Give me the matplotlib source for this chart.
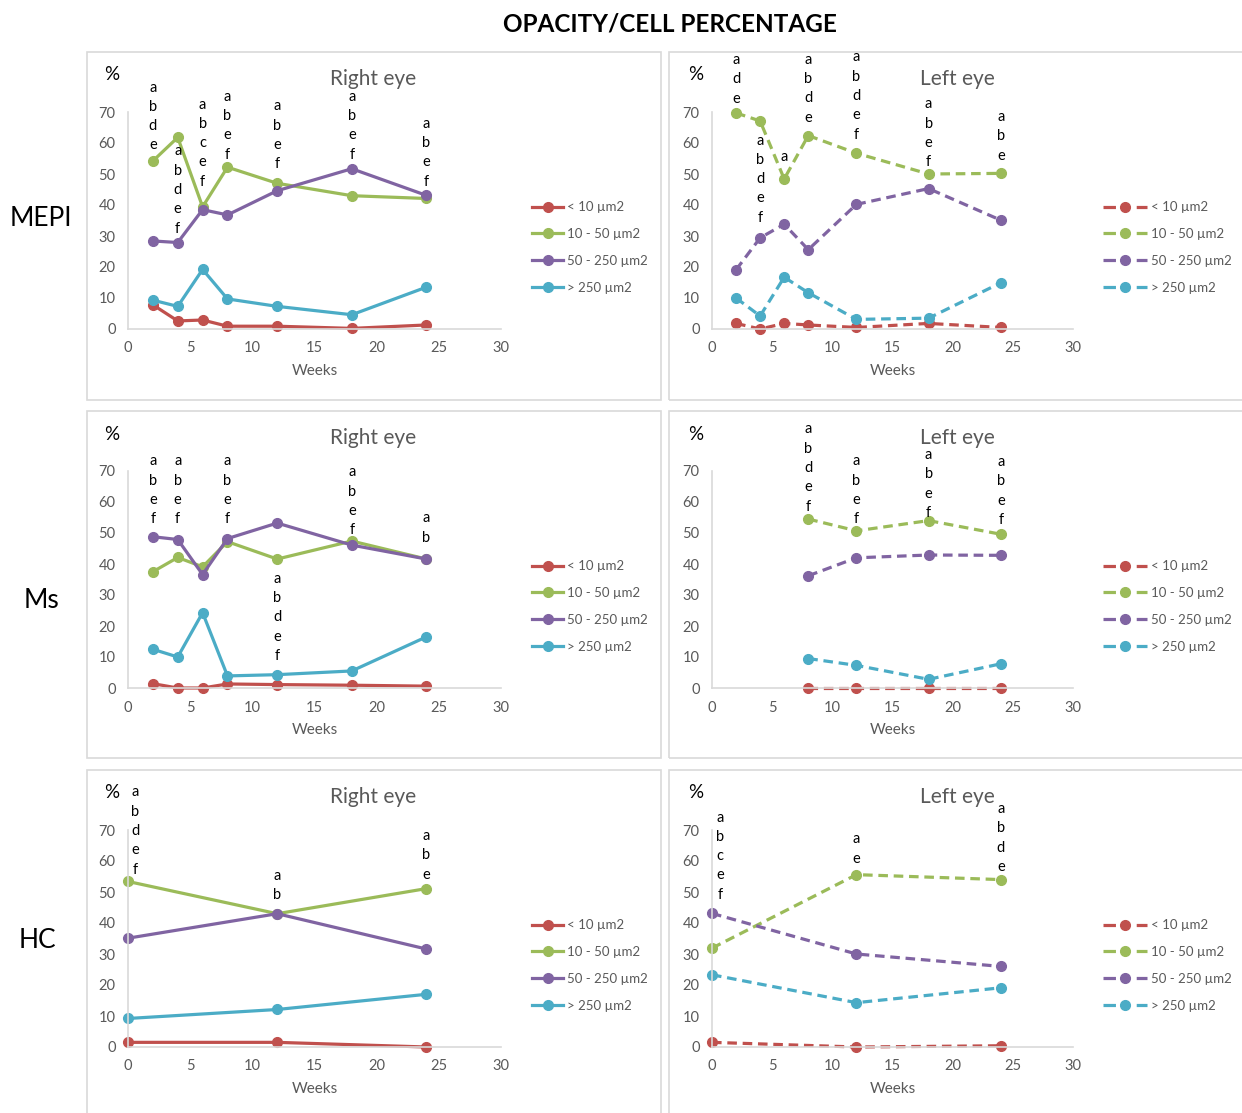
import matplotlib
matplotlib.use('Agg')
import matplotlib.pyplot as plt
from matplotlib.patches import Rectangle
from matplotlib.lines import Line2D

plt.rcParams['font.family'] = ['Lato', 'DejaVu Sans']

W, H = 1242, 1113

size_labels = ['< 10 \u00b5m2', '10 - 50 \u00b5m2', '50 - 250 \u00b5m2', '> 250 \u00b5m2']
colors = ['#C0504D', '#9BBB59', '#8064A2', '#4BACC6']

# ---- MEPI ----
mepi_weeks = [2, 4, 6, 8, 12, 18, 24]
mepi_right = [
    [7.8, 2.6, 2.9, 0.9, 0.9, 0.2, 1.3],
    [54.2, 61.8, 39.4, 52.2, 47.0, 43.0, 42.1],
    [28.4, 27.9, 38.5, 36.8, 44.6, 51.7, 43.1],
    [9.3, 7.3, 19.2, 9.7, 7.3, 4.6, 13.5],
]
mepi_right_notes = ['abde', 'abdef', 'abcef', 'abef', 'abef', 'abef', 'abef']
mepi_right_note_y = [59.2, 32.4, 47.5, 56.2, 53.1, 56.2, 47.5]

mepi_left = [
    [1.8, 0.0, 1.8, 1.3, 0.5, 1.8, 0.5],
    [69.7, 67.1, 48.4, 62.4, 56.7, 50.0, 50.2],
    [19.1, 29.4, 33.8, 25.6, 40.2, 45.3, 35.1],
    [10.0, 4.2, 16.7, 11.7, 3.1, 3.5, 14.9],
]
mepi_left_notes = ['ade', 'abdef', 'a', 'abde', 'abdef', 'abef', 'abe']
mepi_left_note_y = [74.3, 35.9, 55.4, 68.2, 62.7, 53.8, 55.9]

# ---- Ms ----
ms_right_weeks = [2, 4, 6, 8, 12, 18, 24]
ms_right = [
    [1.4, 0.0, 0.0, 1.3, 1.1, 0.9, 0.6],
    [37.5, 42.1, 39.1, 47.2, 41.6, 47.4, 41.6],
    [48.8, 47.9, 36.6, 48.2, 53.2, 46.1, 41.6],
    [12.5, 10.0, 24.3, 3.9, 4.3, 5.5, 16.5],
]
ms_right_notes = ['abef', 'abef', '', 'abef', 'abdef', 'abef', 'ab']
ms_right_note_y = [54.4, 54.4, 0, 54.4, 10.3, 50.9, 48.5]

ms_left_weeks = [8, 12, 18, 24]
ms_left = [
    [0.0, 0.0, 0.0, 0.0],
    [54.5, 50.7, 54.0, 49.6],
    [36.2, 42.0, 42.9, 42.8],
    [9.5, 7.3, 2.8, 7.8],
]
ms_left_notes = ['abdef', 'abef', 'abef', 'abef']
ms_left_note_y = [58.5, 54.4, 56.5, 54.2]

# ---- HC ----
hc_weeks = [0, 12, 24]
hc_right = [
    [1.5, 1.5, 0.0],
    [53.4, 43.0, 51.1],
    [35.1, 43.0, 31.6],
    [9.2, 12.1, 17.0],
]
hc_right_notes = ['abdef', 'ab', 'abe']
hc_right_note_y = [57.2, 48.9, 55.6]

hc_left = [
    [1.5, 0.0, 0.4],
    [31.9, 55.6, 54.0],
    [43.1, 30.0, 26.0],
    [23.3, 14.3, 19.1],
]
hc_left_notes = ['abcef', 'ae', 'abde']
hc_left_note_y = [49.1, 60.8, 58.1]

row_names = ['MEPI', 'Ms', 'HC']

fig = plt.figure(figsize=(W / 100, H / 100), dpi=100)


def fx(px):
    return px / W


def fy(py):
    return 1 - py / H


def box(x0, y0, x1, y1):
    fig.patches.append(Rectangle((fx(x0), fy(y1)), (x1 - x0) / W, (y1 - y0) / H,
                                 transform=fig.transFigure, fill=False,
                                 edgecolor='#d9d9d9', lw=1.2))


def panel(x0, x1, ytop, weeks, series, notes, note_y, dashed, eye, leg_x, note_dx=0):
    ybot = ytop + 217
    ax = fig.add_axes([fx(x0), fy(ybot), (x1 - x0) / W, (ybot - ytop) / H])
    ls = (0, (3, 1.8)) if dashed else '-'
    handles = []
    for vals, c, lab in zip(series, colors, size_labels):
        ax.plot(weeks, vals, color=c, lw=2.3, ls=ls, marker='o', ms=7,
                clip_on=False)
        if dashed:
            handles.append(Line2D([], [], color=c, lw=2.3, ls=(0, (3.9, 6.5)),
                                  marker='o', ms=7, label=lab))
        else:
            handles.append(Line2D([], [], color=c, lw=2.3, marker='o', ms=7, label=lab))
    for x, txt, yb in zip(weeks, notes, note_y):
        for i, ch in enumerate(reversed(txt)):
            ax.annotate(ch, xy=(x, yb), xytext=(note_dx if x == 0 else 0, i * 19.3),
                        textcoords='offset pixels', ha='center', va='center',
                        fontsize=10.5, color='black', annotation_clip=False)
    ax.set_xlim(0, 30)
    ax.set_ylim(0, 70)
    ax.set_xticks(range(0, 31, 5))
    ax.set_yticks(range(0, 71, 10))
    ax.tick_params(length=0, labelsize=10.5, labelcolor='#595959', pad=9)
    for s in ['top', 'right']:
        ax.spines[s].set_visible(False)
    for s in ['left', 'bottom']:
        ax.spines[s].set_color('#d9d9d9')
        ax.spines[s].set_linewidth(1.2)
    ax.set_facecolor('none')
    ax.set_xlabel('Weeks', fontsize=11, color='#595959', labelpad=6)
    eye_dx = 65 if dashed else 59
    fig.text(fx((x0 + x1) / 2 + eye_dx), fy(ytop - 33), eye, fontsize=15, color='#595959',
             ha='center', va='center')
    fig.text(fx(x0 - 16), fy(ytop - 37), '%', fontsize=13.5, color='black',
             ha='center', va='center')
    ax.legend(handles=handles, loc='center left',
              bbox_to_anchor=(fx(leg_x), fy(ytop + 135.5)), bbox_transform=fig.transFigure,
              frameon=False, fontsize=9.5, labelcolor='#595959',
              handlelength=3.3 if dashed else 2.35,
              handletextpad=0.35 if dashed else 0.3,
              labelspacing=1.12, borderpad=0, borderaxespad=0)
    return ax


row_tops = [112, 471, 830]
box_rows = [(52, 400), (411, 758), (770, 1125)]
for y0, y1 in box_rows:
    box(87, y0, 661, y1)
    box(669, y0, 1260, y1)

panel(128, 501, row_tops[0], mepi_weeks, mepi_right, mepi_right_notes, mepi_right_note_y,
      False, 'Right eye', 532)
panel(712, 1073, row_tops[0], mepi_weeks, mepi_left, mepi_left_notes, mepi_left_note_y,
      True, 'Left eye', 1103)
panel(128, 501, row_tops[1], ms_right_weeks, ms_right, ms_right_notes, ms_right_note_y,
      False, 'Right eye', 532)
panel(712, 1073, row_tops[1], ms_left_weeks, ms_left, ms_left_notes, ms_left_note_y,
      True, 'Left eye', 1103)
panel(128, 501, row_tops[2], hc_weeks, hc_right, hc_right_notes, hc_right_note_y,
      False, 'Right eye', 532, note_dx=7)
panel(712, 1073, row_tops[2], hc_weeks, hc_left, hc_left_notes, hc_left_note_y,
      True, 'Left eye', 1103, note_dx=8)

for name, xc, yc in zip(row_names, [41, 41, 37], [218, 601, 940]):
    fig.text(fx(xc), fy(yc), name, fontsize=19, ha='center', va='center')

fig.text(fx(670), fy(24), 'OPACITY/CELL PERCENTAGE', fontsize=17.5, fontweight='bold',
         ha='center', va='center')

fig.savefig('out.png', dpi=100, facecolor='white')
